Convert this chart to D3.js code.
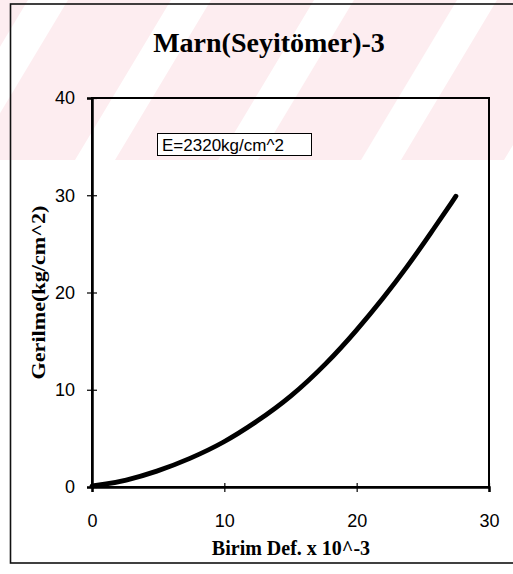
<!DOCTYPE html>
<html>
<head>
<meta charset="utf-8">
<script src="https://cdn.jsdelivr.net/npm/d3@7/dist/d3.min.js"></script>
<style>
  html, body { margin: 0; padding: 0; background: #ffffff; }
  svg { display: block; }
</style>
</head>
<body>
<svg id="chart" width="513" height="574"></svg>
<script>
// ---- data ----
const strain = [0, 1, 2.4, 4.9, 7.4, 9.9, 12.45, 15, 17.75, 20, 22, 23.8, 25.55, 27.5];
const stress = [0.1, 0.3, 0.6, 1.57, 2.9, 4.5, 6.7, 9.2, 12.7, 16.1, 19.4, 22.6, 26.0, 29.9];
const xTicks = [0, 10, 20, 30];
const yTicks = [0, 10, 20, 30, 40];
const titleText = "Marn(Seyitömer)-3";
const xTitle = "Birim Def. x 10^-3";
const yTitle = "Gerilme(kg/cm^2)";
const noteText = "E=2320kg/cm^2";

const svg = d3.select("#chart");
const W = 513, H = 574;
const plot = { left: 92, right: 489, top: 98, bottom: 487 };

// faint pink diagonal watermark in upper part
const wm = svg.append("g");
wm.append("clipPath").attr("id", "wmclip")
  .append("rect").attr("x", 0).attr("y", 0).attr("width", W).attr("height", 160);
const bands = d3.range(-3, 5);
wm.append("g").attr("clip-path", "url(#wmclip)")
  .selectAll("polygon").data(bands).join("polygon")
  .attr("points", k => {
    const x0 = 115 + 143 * k, w = 103, s = 96;
    return [[x0, 160], [x0 + w, 160], [x0 + w + s, 0], [x0 + s, 0]].map(p => p.join(",")).join(" ");
  })
  .attr("fill", "#fdedf0");

// outer frame
svg.append("rect").attr("x", 10.5).attr("y", 4).attr("width", 520).attr("height", 559)
  .attr("fill", "none").attr("stroke", "#111").attr("stroke-width", 1.6);

const x = d3.scaleLinear().domain([0, 30]).range([plot.left, plot.right]);
const y = d3.scaleLinear().domain([0, 40]).range([plot.bottom, plot.top]);

// plot area border
svg.append("rect").attr("x", plot.left).attr("y", plot.top)
  .attr("width", plot.right - plot.left).attr("height", plot.bottom - plot.top)
  .attr("fill", "none").attr("stroke", "#000").attr("stroke-width", 2);

// axes
const yAxis = svg.append("g").attr("transform", `translate(${plot.left},0)`)
  .call(d3.axisLeft(y).tickValues(yTicks).tickSize(5).tickPadding(12).tickFormat(d3.format("d")));
yAxis.select(".domain").attr("stroke", "#000").attr("stroke-width", 2.5);
yAxis.selectAll(".tick line").attr("x1", 5).attr("x2", -5).attr("stroke", "#000").attr("stroke-width", 1.2);
yAxis.selectAll(".tick text").attr("font-family", "'Liberation Sans', Arial, sans-serif")
  .attr("font-size", 18).attr("fill", "#000");

const xAxis = svg.append("g").attr("transform", `translate(0,${plot.bottom})`)
  .call(d3.axisBottom(x).tickValues(xTicks).tickSize(5).tickPadding(22).tickFormat(d3.format("d")));
xAxis.select(".domain").attr("stroke", "#000").attr("stroke-width", 2.5);
xAxis.selectAll(".tick line").attr("y1", -4).attr("y2", 5).attr("stroke", "#000").attr("stroke-width", 1.2);
xAxis.selectAll(".tick text").attr("font-family", "'Liberation Sans', Arial, sans-serif")
  .attr("font-size", 18).attr("fill", "#000");

// curve
const pts = strain.map((s, i) => [s, stress[i]]);
svg.append("path").datum(pts)
  .attr("d", d3.line().x(d => x(d[0])).y(d => y(d[1])).curve(d3.curveBasis))
  .attr("fill", "none").attr("stroke", "#000").attr("stroke-width", 4.8)
  .attr("stroke-linecap", "round").attr("stroke-linejoin", "round");

// annotation box
svg.append("rect").attr("x", 157.5).attr("y", 133.5).attr("width", 154).attr("height", 22)
  .attr("fill", "#fff").attr("stroke", "#000").attr("stroke-width", 1);
svg.append("text").attr("x", 162).attr("y", 151)
  .attr("font-family", "'Liberation Sans', Arial, sans-serif").attr("font-size", 17)
  .text(noteText);

// titles
svg.append("text").attr("x", 269).attr("y", 52).attr("text-anchor", "middle")
  .attr("font-family", "'Liberation Serif', 'Times New Roman', serif").attr("font-weight", "bold")
  .attr("font-size", 28).text(titleText);

svg.append("text").attr("x", 291).attr("y", 555).attr("text-anchor", "middle")
  .attr("font-family", "'Liberation Serif', 'Times New Roman', serif").attr("font-weight", "bold")
  .attr("font-size", 20).text(xTitle);

svg.append("text").attr("transform", `translate(45,${(plot.top + plot.bottom) / 2}) rotate(-90)`)
  .attr("text-anchor", "middle")
  .attr("font-family", "'Liberation Serif', 'Times New Roman', serif").attr("font-weight", "bold")
  .attr("font-size", 19).attr("textLength", 174).attr("lengthAdjust", "spacingAndGlyphs")
  .text(yTitle);
</script>
</body>
</html>
